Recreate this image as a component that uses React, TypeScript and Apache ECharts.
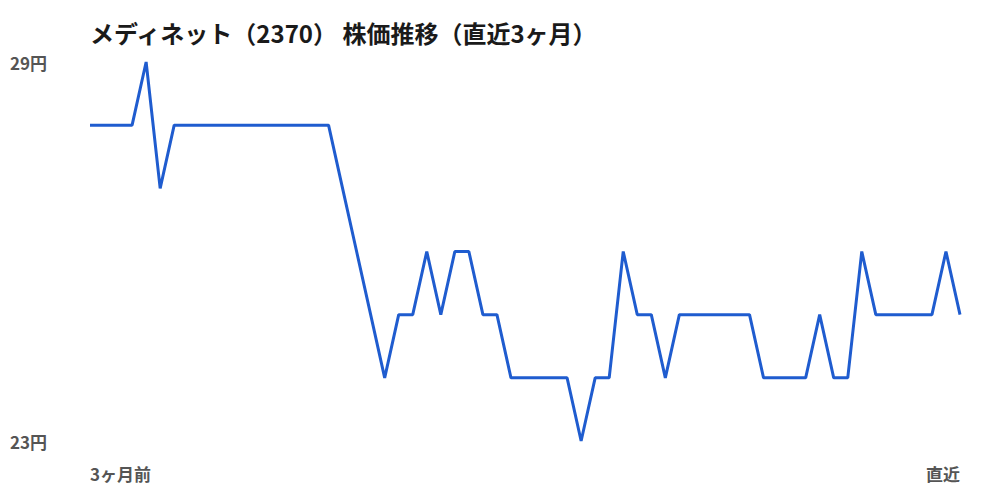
import * as echarts from 'echarts';
import React, { useEffect, useRef } from 'react';

const TITLE = 'メディネット（2370） 株価推移（直近3ヶ月）';

// daily close (円), oldest -> latest
const prices: number[] = [
  28, 28, 28, 28, 29, 27, 28, 28, 28, 28, 28, 28, 28, 28, 28, 28, 28, 28,
  27, 26, 25, 24, 25, 25, 26, 25, 26, 26, 25, 25, 24, 24, 24, 24, 24, 23,
  24, 24, 26, 25, 25, 24, 25, 25, 25, 25, 25, 25, 24, 24, 24, 24, 25, 24,
  24, 26, 25, 25, 25, 25, 25, 26, 25,
];

const days: string[] = prices.map((_, i) => String(i));
const xEndLabels: string[] = ['3ヶ月前', '直近'];
const yMin = 23;
const yMax = 29;

const FONT = '"Noto Sans CJK JP", "Noto Sans", sans-serif';

const App: React.FC = () => {
  const chartRef = useRef<HTMLDivElement>(null);

  useEffect(() => {
    document.body.style.margin = '0';
    const myChart = echarts.init(chartRef.current!, null, { renderer: 'svg' });

    const option = {
      animation: false,
      title: {
        text: TITLE,
        left: 85,
        top: 15,
        textStyle: {
          fontFamily: FONT,
          fontSize: 24,
          fontWeight: 'bold',
          color: '#1a1a1a',
        },
      },
      grid: {
        left: 90,
        right: 40,
        top: 62,
        bottom: 59,
      },
      xAxis: {
        type: 'category',
        data: days,
        boundaryGap: false,
        axisLine: { show: false },
        axisTick: { show: false },
        splitLine: { show: false },
        axisLabel: {
          interval: (i: number) => i === 0 || i === days.length - 1,
          formatter: (_v: string, i: number) =>
            i === 0 ? xEndLabels[0] : i === days.length - 1 ? xEndLabels[1] : '',
          alignMinLabel: 'left',
          alignMaxLabel: 'right',
          margin: 24,
          fontFamily: FONT,
          fontSize: 17,
          fontWeight: 'bold',
          color: '#555555',
        },
      },
      yAxis: {
        type: 'value',
        min: yMin,
        max: yMax,
        interval: 1,
        axisLine: { show: false },
        axisTick: { show: false },
        splitLine: { show: false },
        axisLabel: {
          formatter: (v: number) => (v === yMin || v === yMax ? `${v}円` : ''),
          align: 'left',
          margin: 80,
          fontFamily: FONT,
          fontSize: 17,
          fontWeight: 'bold',
          color: '#555555',
        },
      },
      series: [
        {
          type: 'line',
          data: prices,
          symbol: 'none',
          lineStyle: { color: '#1f5ccf', width: 3 },
        },
      ],
    };

    myChart.setOption(option);

    return () => {
      myChart.dispose();
    };
  }, []);

  return <div ref={chartRef} style={{ width: '1000px', height: '500px' }} />;
};

export default App;
